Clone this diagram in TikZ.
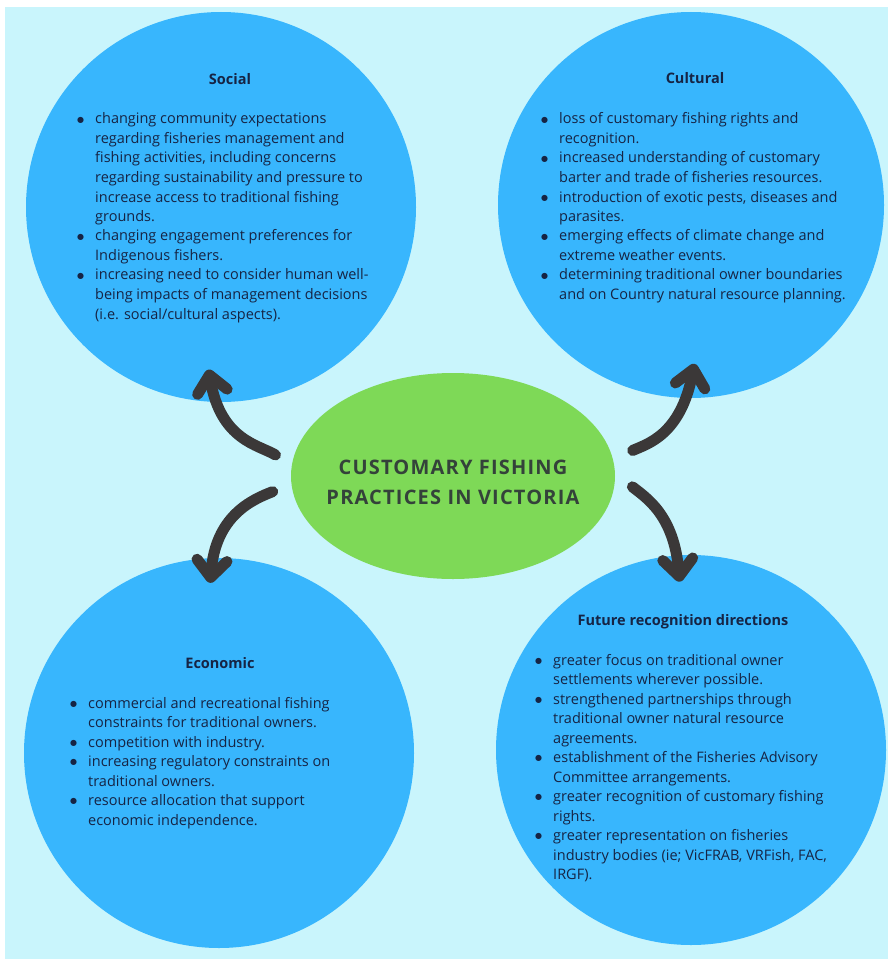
\documentclass[tikz,border=0pt]{standalone}
\usepackage{fontspec}
\setmainfont{Open Sans}
\newfontfamily\hubfont{Open Sans}[LetterSpace=6]
\newfontfamily\dotfont{DejaVu Sans}
\usetikzlibrary{shapes.geometric,arrows.meta,calc}

\definecolor{bgcyan}{HTML}{C9F5FC}
\definecolor{bubblefill}{HTML}{38B6FD}
\definecolor{hubfill}{HTML}{7ED957}
\definecolor{arrowgray}{HTML}{3B3838}
\definecolor{ink}{HTML}{162444}
\definecolor{hubink}{HTML}{34423A}

% bullet set in the left indent of a list line
\newcommand\bul{\leavevmode\llap{\raisebox{1.6pt}{\dotfont\fontsize{8pt}{8pt}\selectfont ●}\hspace{11pt}}}

\tikzset{
  bubble/.style={circle, fill=bubblefill, minimum size=390pt, inner sep=0pt},
  hub/.style={ellipse, fill=hubfill, minimum width=324pt, minimum height=206pt, inner sep=0pt},
  hubtext/.style={font=\hubfont\bfseries\fontsize{20pt}{30pt}\selectfont, text=hubink, inner sep=0pt, anchor=base},
  heading/.style={font=\bfseries\fontsize{14.5pt}{19.5pt}\selectfont, text=ink, inner sep=0pt, anchor=base},
  points/.style={font=\fontsize{14.5pt}{19.5pt}\selectfont, text=ink, inner sep=0pt, anchor=base west},
  link/.style={draw=arrowgray, line width=11pt, line cap=round,
    -{Straight Barb[length=17pt,width=30pt,round]}},
}

\begin{document}
\begin{tikzpicture}[x=1pt,y=1pt]
  \useasboundingbox (0,0) rectangle (888,-963);
  \fill[white] (0,0) rectangle (888,-963);
  \fill[bgcyan] (5,-7) rectangle (888,-959);

  % four theme bubbles and the central hub
  \node[bubble] (soc) at (221,-207) {};
  \node[bubble, minimum size=386pt] (cul) at (691,-205) {};
  \node[bubble] (eco) at (219,-753) {};
  \node[bubble] (fut) at (691,-750) {};
  \node[hub] (hub) at (453,-476) {};

  \node[hubtext] (hubtitle) at (453,-474)
    {\parbox[t]{330pt}{\centering CUSTOMARY FISHING\\PRACTICES IN VICTORIA}};

  % headings
  \node[heading] (socHead) at (230,-85) {Social};
  \node[heading] (culHead) at (695,-84) {Cultural};
  \node[heading] (ecoHead) at (220,-668) {Economic};
  \node[heading] (futHead) at (683,-625) {Future recognition directions};

  % bullet lists (the box starts 16pt left of the text, leaving room for the dots)
  \node[points] (socList) at (79,-124) {\parbox[t]{346pt}{\raggedright\leftskip=16pt
    \bul changing community expectations\\
    regarding fisheries management and\\
    fishing activities, including concerns\\
    regarding sustainability and pressure to\\
    increase access to traditional fishing\\
    grounds.\\
    \bul changing engagement preferences for\\
    Indigenous fishers.\\
    \bul increasing need to consider human well-\\
    being impacts of management decisions\\
    (i.e. social/cultural aspects).}};

  \node[points] (culList) at (543,-124) {\parbox[t]{346pt}{\raggedright\leftskip=16pt
    \bul loss of customary fishing rights and\\
    recognition.\\
    \bul increased understanding of customary\\
    barter and trade of fisheries resources.\\
    \bul introduction of exotic pests, diseases and\\
    parasites.\\
    \bul emerging effects of climate change and\\
    extreme weather events.\\
    \bul determining traditional owner boundaries\\
    and on Country natural resource planning.}};

  \node[points] (ecoList) at (72,-708) {\parbox[t]{346pt}{\raggedright\leftskip=16pt
    \bul commercial and recreational fishing\\
    constraints for traditional owners.\\
    \bul competition with industry.\\
    \bul increasing regulatory constraints on\\
    traditional owners.\\
    \bul resource allocation that support\\
    economic independence.}};

  \node[points] (futList) at (537,-665) {\parbox[t]{346pt}{\raggedright\leftskip=16pt
    \bul greater focus on traditional owner\\
    settlements wherever possible.\\
    \bul strengthened partnerships through\\
    traditional owner natural resource\\
    agreements.\\
    \bul establishment of the Fisheries Advisory\\
    Committee arrangements.\\
    \bul greater recognition of customary fishing\\
    rights.\\
    \bul greater representation on fisheries\\
    industry bodies (ie; VicFRAB, VRFish, FAC,\\
    IRGF).}};

  % curved arrows from the hub out to each bubble
  \draw[link, shorten <=19pt, shorten >=-33pt]
    (hub.176) to[out=149, in=280] (soc.268.5);
  \draw[link, shorten <=20pt, shorten >=-25pt]
    (hub.183.8) to[out=201, in=85.6] (eco.92.7);
  \draw[link, shorten <=21.5pt, shorten >=-35pt]
    (hub.6.6) to[out=24, in=258.7] (cul.269.5);
  \draw[link, shorten <=22pt, shorten >=-26.5pt]
    (hub.1.5) to[out=321.7, in=95] (fut.94.5);
\end{tikzpicture}
\end{document}
